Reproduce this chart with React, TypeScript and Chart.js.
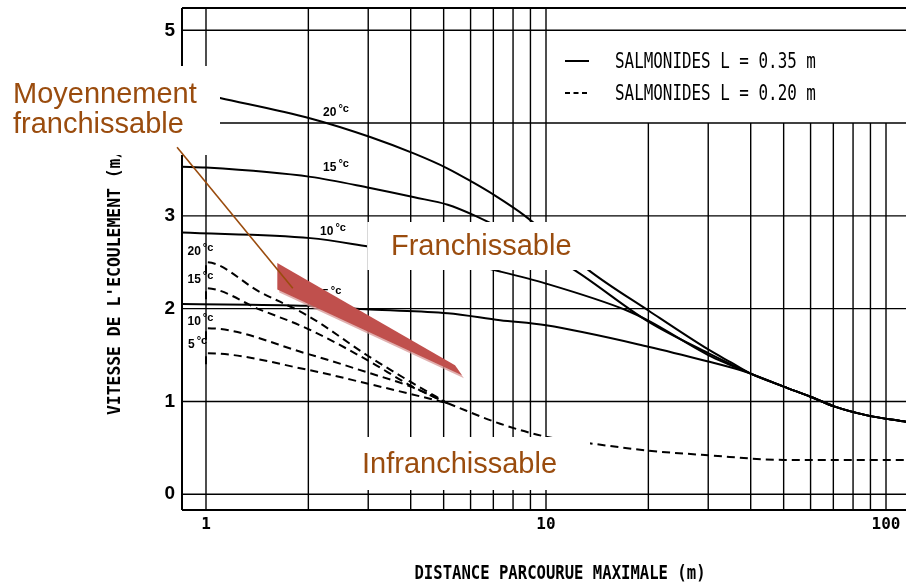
import React, { useEffect, useRef } from 'react';
import { Chart, registerables } from 'chart.js';

Chart.register(...registerables);

// ---------------- axes ----------------
const X_MIN = 0.85;
const X_MAX = 114.5;
const Y_MIN = -0.17;
const Y_MAX = 5.24;
const xGridValues = [1, 2, 3, 4, 5, 6, 7, 8, 9, 10, 20, 30, 40, 50, 60, 70, 80, 90, 100];
const xTickLabels = [1, 10, 100];
const yGridValues = [0, 1, 2, 3, 4, 5];
const legendGridCutX = 10; // vertical grid beyond this x stops at y = 4 (legend zone)
const legendGridCutY = 4;

const xTitle = 'DISTANCE PARCOURUE MAXIMALE (m)';
const yTitle = "VITESSE DE L'ECOULEMENT (m/s)";
const legendLabels = ['SALMONIDES L = 0.35 m', 'SALMONIDES L = 0.20 m'];

// ---------------- series: SALMONIDES L = 0.35 m (solid) ----------------
const solid20X = [0.85, 1.1, 2.03, 3.04, 4.1, 5.14, 6.1, 7.0, 8.67, 13.4, 20, 30, 35, 40, 50, 60, 70, 88, 114.5];
const solid20Y = [4.36, 4.27, 4.05, 3.85, 3.67, 3.51, 3.36, 3.23, 3.0, 2.41, 1.98, 1.56, 1.42, 1.3, 1.16, 1.05, 0.95, 0.85, 0.78];

const solid15X = [0.85, 1, 2.03, 3.04, 4.1, 5.14, 6.2, 8.5, 12.2, 20, 30, 35, 40, 50, 60, 70, 88, 114.5];
const solid15Y = [3.53, 3.52, 3.42, 3.3, 3.2, 3.12, 3.0, 2.75, 2.41, 1.86, 1.52, 1.4, 1.3, 1.16, 1.05, 0.95, 0.85, 0.78];

const solid10X = [0.85, 2.03, 3.0, 5.0, 7.33, 10, 17.3, 20, 30, 35, 40, 50, 60, 70, 88, 114.5];
const solid10Y = [2.82, 2.76, 2.67, 2.54, 2.4, 2.27, 1.98, 1.87, 1.5, 1.39, 1.3, 1.16, 1.05, 0.95, 0.85, 0.78];

const solid5X = [0.85, 2, 3.04, 5.14, 7.33, 10, 20, 30, 37, 40, 50, 60, 70, 88, 114.5];
const solid5Y = [2.05, 2.03, 1.99, 1.95, 1.875, 1.82, 1.59, 1.43, 1.34, 1.3, 1.16, 1.05, 0.95, 0.85, 0.78];

// ---------------- series: SALMONIDES L = 0.20 m (dashed) ----------------
const dash20X = [1, 1, 1.44, 2, 3, 4, 5.14];
const dash20Y = [2.38, 2.5, 2.18, 1.92, 1.49, 1.21, 0.98];

const dash15X = [1, 1, 1.44, 2, 3, 4, 5.14];
const dash15Y = [2.1, 2.22, 1.99, 1.78, 1.44, 1.17, 0.98];

const dash10X = [1, 1, 2, 3, 4, 5.14];
const dash10Y = [1.67, 1.79, 1.51, 1.31, 1.16, 0.98];

const dash5X = [1, 1, 2, 3, 4, 5.14];
const dash5Y = [1.4, 1.52, 1.34, 1.19, 1.08, 0.98];

const dashTailX = [5.14, 7.33, 10, 13.4, 20, 30, 50, 114.5];
const dashTailY = [0.98, 0.76, 0.62, 0.55, 0.47, 0.42, 0.37, 0.37];

// temperature labels attached to the curves (data coords of label's left / baseline)
const solidLabelText = ['20', '15', '10', '5'];
const solidLabelX = [2.21, 2.21, 2.165, 2.195];
const solidLabelY = [4.08, 3.48, 2.79, 2.11];
const dashLabelText = ['20', '15', '10', '5'];
const dashLabelX = [0.882, 0.882, 0.882, 0.885];
const dashLabelY = [2.575, 2.274, 1.821, 1.573];

// "moyennement franchissable" wedge and its pointer (data coords)
const wedgeX = [1.621, 5.4, 5.66, 1.621];
const wedgeY = [2.492, 1.39, 1.282, 2.206];
const pointerX = [0.822, 1.8];
const pointerY = [3.739, 2.22];

const zoneTexts = {
  middle: ['Moyennement', 'franchissable'],
  pass: 'Franchissable',
  noPass: 'Infranchissable',
};

// ---------------- styles ----------------
const INK = '#000';
const BROWN = '#9a4c0e';
const WEDGE = '#c0504d';
const WEDGE_SHADOW = 'rgba(214, 150, 148, 0.75)';
const PLOT_FONT = "'DejaVu Sans Mono', 'Liberation Mono', monospace";
const SANS = "'Liberation Sans', Arial, Helvetica, sans-serif";

const toPts = (xs: number[], ys: number[]) => xs.map((x, i) => ({ x, y: ys[i] }));

const solidStyle = {
  borderColor: INK,
  borderWidth: 2,
  pointRadius: 0,
  fill: false,
  cubicInterpolationMode: 'monotone' as const,
};
const dashStyle = { ...solidStyle, borderDash: [8, 5] };

function seg(ctx: CanvasRenderingContext2D, x1: number, y1: number, x2: number, y2: number) {
  ctx.beginPath();
  ctx.moveTo(x1, y1);
  ctx.lineTo(x2, y2);
  ctx.stroke();
}

const gridPlugin = {
  id: 'paperGrid',
  beforeDatasetsDraw(chart: any) {
    const { ctx, chartArea: a, scales } = chart;
    const xs = scales.x;
    const ys = scales.y;
    ctx.save();
    ctx.strokeStyle = INK;
    ctx.lineWidth = 1.4;
    const cutTop = ys.getPixelForValue(legendGridCutY);
    xGridValues.forEach((v) => {
      const px = xs.getPixelForValue(v);
      const top = v > legendGridCutX ? cutTop : a.top;
      seg(ctx, px, top, px, a.bottom);
    });
    yGridValues.forEach((v) => {
      const py = ys.getPixelForValue(v);
      seg(ctx, a.left, py, a.right, py);
    });
    ctx.lineWidth = 2;
    seg(ctx, a.left, a.top, a.right, a.top);
    seg(ctx, a.left, a.top, a.left, a.bottom);
    seg(ctx, a.left, a.bottom, a.right, a.bottom);
    ctx.restore();
  },
};

function tempLabel(ctx: CanvasRenderingContext2D, px: number, py: number, num: string) {
  ctx.fillStyle = INK;
  ctx.textAlign = 'left';
  ctx.textBaseline = 'alphabetic';
  ctx.font = `bold 12px ${SANS}`;
  ctx.fillText(num, px, py);
  const w = ctx.measureText(num).width;
  ctx.font = `bold 11px ${SANS}`;
  ctx.fillText('°c', px + w + 2, py - 4);
}

function stretchedText(
  ctx: CanvasRenderingContext2D,
  text: string,
  x: number,
  y: number,
  size: number,
  sy: number,
  align: CanvasTextAlign,
  rotate = 0,
  weight = 'normal',
) {
  ctx.save();
  ctx.translate(x, y);
  if (rotate) ctx.rotate(rotate);
  ctx.scale(1, sy);
  ctx.font = `${weight} ${size}px ${PLOT_FONT}`;
  ctx.fillStyle = INK;
  ctx.textAlign = align;
  ctx.textBaseline = 'alphabetic';
  ctx.fillText(text, 0, 0);
  ctx.restore();
}

const overlayPlugin = {
  id: 'overlay',
  afterDraw(chart: any) {
    const { ctx, scales } = chart;
    const xs = scales.x;
    const ys = scales.y;
    const P = (x: number, y: number) => [xs.getPixelForValue(x), ys.getPixelForValue(y)];
    ctx.save();

    // temperature labels
    solidLabelText.forEach((t, i) => {
      const [px, py] = P(solidLabelX[i], solidLabelY[i]);
      tempLabel(ctx, px, py, t);
    });
    dashLabelText.forEach((t, i) => {
      const [px, py] = P(dashLabelX[i], dashLabelY[i]);
      tempLabel(ctx, px, py, t);
    });

    // legend
    ctx.strokeStyle = INK;
    ctx.lineWidth = 2;
    seg(ctx, 565, 61, 589, 61);
    ctx.setLineDash([5, 3.5]);
    seg(ctx, 565, 93, 589, 93);
    ctx.setLineDash([]);
    stretchedText(ctx, legendLabels[0], 615, 68, 15.9, 1.3, 'left');
    stretchedText(ctx, legendLabels[1], 615, 100, 15.9, 1.3, 'left');

    // axis titles
    stretchedText(ctx, xTitle, 560, 579, 15.6, 1.25, 'center', 0, 'bold');
    stretchedText(ctx, yTitle, 120, 272, 16.4, 1.1, 'center', -Math.PI / 2, 'bold');

    // zone boxes (white background text boxes)
    ctx.fillStyle = '#fff';
    ctx.fillRect(0, 66, 220, 89);
    ctx.fillRect(367, 222, 233, 48);
    ctx.fillRect(360, 437, 230, 53);
    ctx.strokeStyle = '#d8d8d8';
    ctx.lineWidth = 1;
    seg(ctx, 367.5, 222, 367.5, 270);

    ctx.fillStyle = BROWN;
    ctx.font = `29px ${SANS}`;
    ctx.textAlign = 'left';
    ctx.textBaseline = 'alphabetic';
    ctx.fillText(zoneTexts.middle[0], 13, 103);
    ctx.fillText(zoneTexts.middle[1], 13, 133);
    ctx.fillText(zoneTexts.pass, 391, 255);
    ctx.fillText(zoneTexts.noPass, 362, 473);

    // wedge
    const pts = wedgeX.map((x, i) => P(x, wedgeY[i]));
    ctx.fillStyle = WEDGE_SHADOW;
    ctx.beginPath();
    pts.forEach(([px, py], i) => (i ? ctx.lineTo(px + 2, py + 3) : ctx.moveTo(px + 2, py + 3)));
    ctx.closePath();
    ctx.fill();
    ctx.fillStyle = WEDGE;
    ctx.beginPath();
    pts.forEach(([px, py], i) => (i ? ctx.lineTo(px, py) : ctx.moveTo(px, py)));
    ctx.closePath();
    ctx.fill();

    // pointer
    const [ax, ay] = P(pointerX[0], pointerY[0]);
    const [bx, by] = P(pointerX[1], pointerY[1]);
    ctx.strokeStyle = BROWN;
    ctx.lineWidth = 1.6;
    seg(ctx, ax, ay, bx, by);

    ctx.restore();
  },
};

export default function App() {
  const ref = useRef<HTMLCanvasElement>(null);

  useEffect(() => {
    const canvas = ref.current;
    if (!canvas) return;
    const chart = new Chart(canvas, {
      type: 'line',
      data: {
        datasets: [
          { label: '20 °C L=0.35', data: toPts(solid20X, solid20Y), ...solidStyle },
          { label: '15 °C L=0.35', data: toPts(solid15X, solid15Y), ...solidStyle },
          { label: '10 °C L=0.35', data: toPts(solid10X, solid10Y), ...solidStyle },
          { label: '5 °C L=0.35', data: toPts(solid5X, solid5Y), ...solidStyle },
          { label: '20 °C L=0.20', data: toPts(dash20X, dash20Y), ...dashStyle },
          { label: '15 °C L=0.20', data: toPts(dash15X, dash15Y), ...dashStyle },
          { label: '10 °C L=0.20', data: toPts(dash10X, dash10Y), ...dashStyle },
          { label: '5 °C L=0.20', data: toPts(dash5X, dash5Y), ...dashStyle },
          { label: 'L=0.20', data: toPts(dashTailX, dashTailY), ...dashStyle },
        ],
      },
      options: {
        animation: false,
        responsive: false,
        maintainAspectRatio: false,
        events: [],
        layout: { padding: { left: 0, top: 8, right: 2, bottom: 0 } },
        plugins: { legend: { display: false }, tooltip: { enabled: false } },
        scales: {
          x: {
            type: 'logarithmic',
            min: X_MIN,
            max: X_MAX,
            grid: { display: false, drawTicks: false },
            border: { display: false },
            afterBuildTicks: (s: any) => {
              s.ticks = xGridValues.map((v) => ({ value: v }));
            },
            afterFit: (s: any) => {
              s.height = 74;
              s.paddingLeft = 0;
              s.paddingRight = 0;
            },
            ticks: {
              autoSkip: false,
              maxRotation: 0,
              minRotation: 0,
              padding: 5,
              color: INK,
              font: { family: PLOT_FONT, size: 16, weight: 'bold' },
              callback: (v: any) => (xTickLabels.includes(Number(v)) ? String(v) : ''),
            },
          },
          y: {
            type: 'linear',
            min: Y_MIN,
            max: Y_MAX,
            grid: { display: false, drawTicks: false },
            border: { display: false },
            afterBuildTicks: (s: any) => {
              s.ticks = yGridValues.map((v) => ({ value: v }));
            },
            afterFit: (s: any) => {
              s.width = 182;
              s.paddingTop = 0;
              s.paddingBottom = 0;
            },
            ticks: {
              padding: 7,
              color: INK,
              font: { family: SANS, size: 19, weight: 'bold' },
              callback: (v: any) => String(v),
            },
          },
        },
      },
      plugins: [gridPlugin, overlayPlugin],
    } as any);
    return () => chart.destroy();
  }, []);

  return (
    <div style={{ position: 'fixed', left: 0, top: 0, width: 908, height: 584, background: '#fff' }}>
      <canvas ref={ref} width={908} height={584} style={{ display: 'block', width: 908, height: 584 }} />
    </div>
  );
}
